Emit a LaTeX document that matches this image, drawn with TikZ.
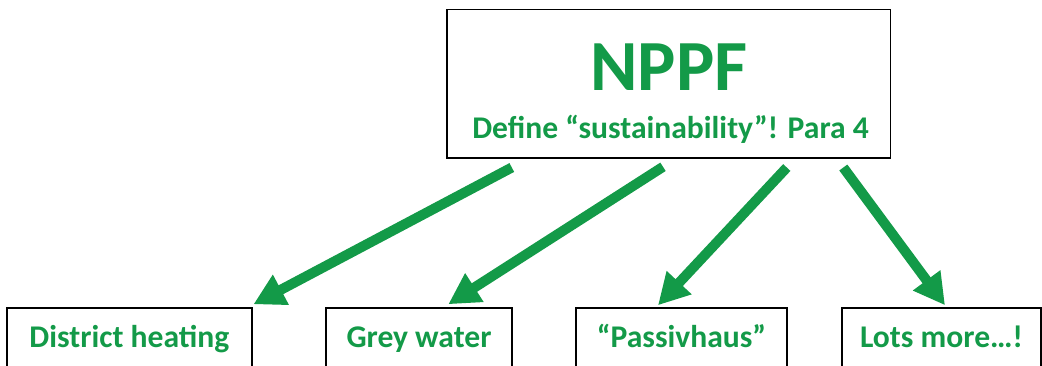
\documentclass[tikz,border=0pt]{standalone}
\usepackage{fontspec}
\setmainfont{Carlito}
\usepackage{tikz}
\usetikzlibrary{arrows.meta}
\usetikzlibrary{positioning}
\usepackage{xcolor}
\definecolor{nppfgreen}{RGB}{19,154,72}
\newcommand{\colortext}{nppfgreen}
\newcommand{\colorlink}{nppfgreen}
\newcommand{\sizetitle}{72pt}
\newcommand{\sizelabel}{31.6pt}
\tikzset{
    common/.style={draw, rectangle, line width=1.5pt, inner sep=0pt},
    topbox/.style={common, minimum width=443.7pt, minimum height=148.7pt},
    leaf/.style={common, anchor=base, text=\colortext, text height=20pt, text depth=2pt,
        minimum height=60pt, font=\fontsize{\sizelabel}{\sizelabel}\selectfont\bfseries},
    title/.style={anchor=base, inner sep=0pt, text=\colortext, font=\fontsize{\sizetitle}{\sizetitle}\selectfont\bfseries},
    subtitle/.style={anchor=base, inner sep=0pt, text=\colortext, font=\fontsize{\sizelabel}{\sizelabel}\selectfont\bfseries},
    link/.style={\colorlink, line width=10pt, -{Triangle[length=31pt, width=32pt]}},
}

\begin{document}
\begin{tikzpicture}[x=1pt, y=1pt]
    \useasboundingbox (0,0) rectangle (1042,-365);

    \node[topbox] (nppf) at (668.8,-83.7) {};
    \node[title] (nppftitle) at (669,-90) {NPPF};
    \node[subtitle] (nppfpara) at (670.5,-138) {Define “sustainability”! Para 4};

    \node[leaf, minimum width=244.7pt] (heating) at (129.4,-347) {District heating};
    \node[leaf, minimum width=186pt] (grey) at (419,-347) {Grey water};
    \node[leaf, minimum width=211pt] (passiv) at (681.5,-347) {“Passivhaus”};
    \node[leaf, minimum width=199pt] (more) at (941.5,-347) {Lots more…!};

    \draw[link] ([shift={(-157,-8.7)}]nppf.south) -- ([shift={(1,3)}]heating.north east);
    \draw[link] ([shift={(-5.8,-8)}]nppf.south) -- ([shift={(29.3,3)}]grey.north);
    \draw[link] ([shift={(118,-8.7)}]nppf.south) -- ([shift={(-23.5,2)}]passiv.north);
    \draw[link] ([shift={(174.5,-8.7)}]nppf.south) -- ([shift={(3.5,2)}]more.north);
\end{tikzpicture}
\end{document}
